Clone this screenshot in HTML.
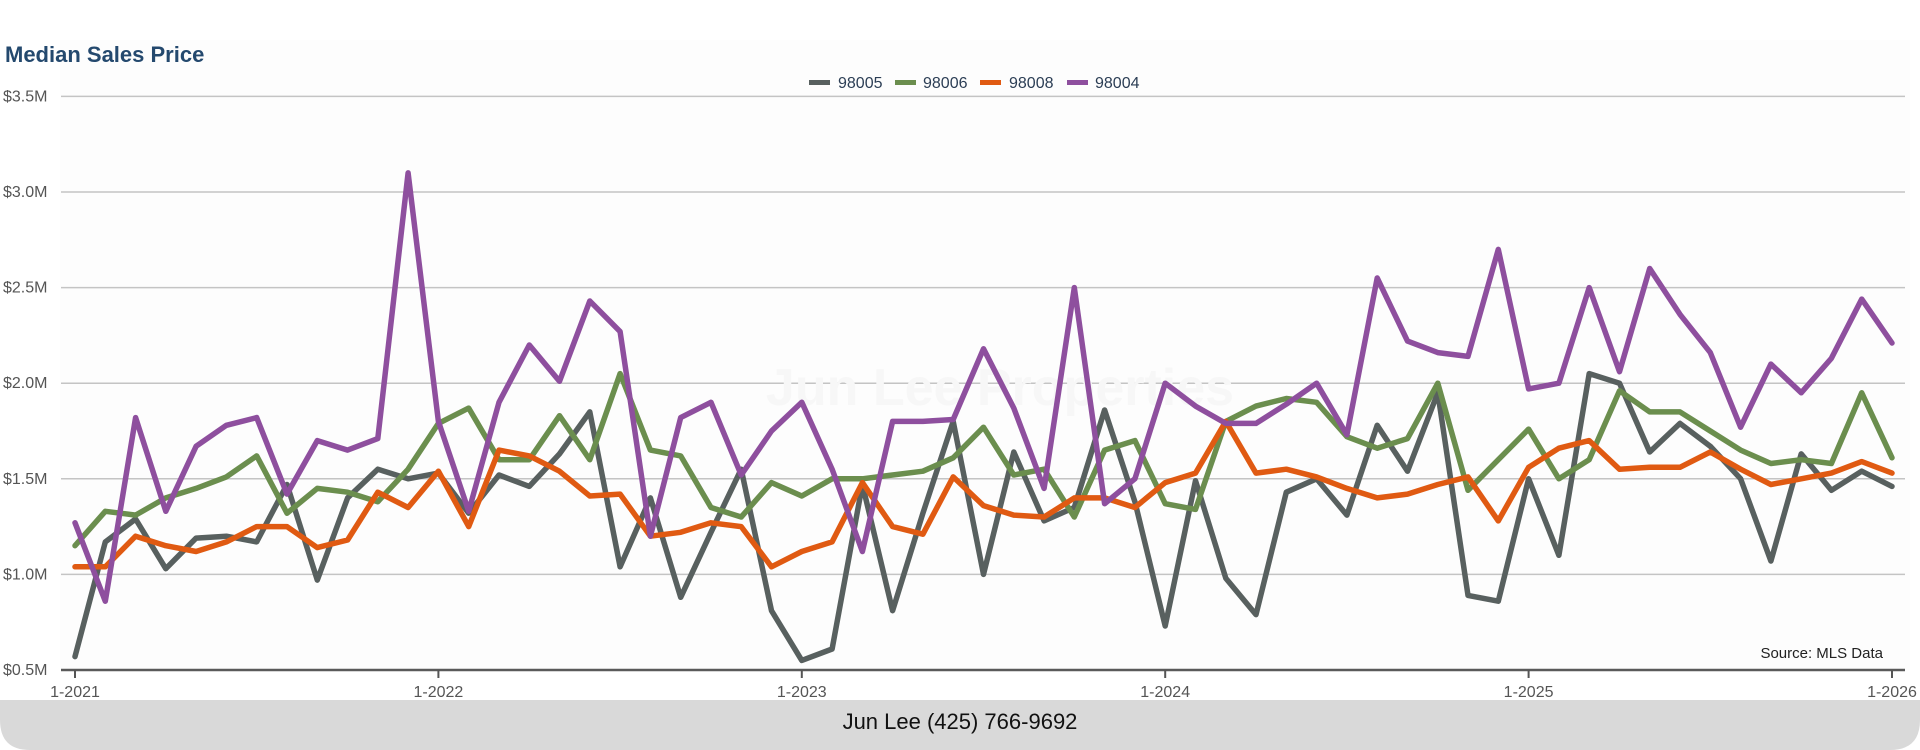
<!DOCTYPE html>
<html><head><meta charset="utf-8"><style>
html,body{margin:0;padding:0;background:#fff;}
body{width:1920px;height:750px;overflow:hidden;position:relative;font-family:"Liberation Sans",Arial,sans-serif;}
</style></head><body>
<svg id="c" width="1920" height="750" viewBox="0 0 1920 750" xmlns="http://www.w3.org/2000/svg" style="position:absolute;left:0;top:0">
<rect x="0" y="0" width="1920" height="750" fill="#ffffff"/>
<rect x="60" y="40" width="1850" height="630" fill="#fdfdfd"/>
<text x="5" y="62" font-family="Liberation Sans, Arial, sans-serif" font-size="22" font-weight="bold" fill="#24496e">Median Sales Price</text>
<g font-family="Liberation Sans, Arial, sans-serif" font-size="16" fill="#2c3e55">
<rect x="809" y="80" width="21" height="5" fill="#58605f"/><text x="838" y="88">98005</text>
<rect x="895" y="80" width="21" height="5" fill="#6b8e4e"/><text x="923" y="88">98006</text>
<rect x="980" y="80" width="21" height="5" fill="#e05a12"/><text x="1009" y="88">98008</text>
<rect x="1067" y="80" width="21" height="5" fill="#8e4f9e"/><text x="1095" y="88">98004</text>
</g>
<g id="grid" stroke="#c4c4c4" stroke-width="1.5"></g>
<g id="ylab" font-family="Liberation Sans, Arial, sans-serif" font-size="16" fill="#555"></g>
<text x="1000" y="405" text-anchor="middle" font-family="Liberation Sans, Arial, sans-serif" font-size="52" font-weight="bold" fill="#f7f7f7">Jun Lee Properties</text>
<g id="series" fill="none" stroke-width="5.5" stroke-linejoin="round" stroke-linecap="round"></g>
<line x1="61" y1="670" x2="1905" y2="670" stroke="#5a5a5a" stroke-width="2.5"/>
<g id="xt" font-family="Liberation Sans, Arial, sans-serif" font-size="16" fill="#555"></g>
<text x="1883" y="658" text-anchor="end" font-family="Liberation Sans, Arial, sans-serif" font-size="15" fill="#222">Source: MLS Data</text>
<path d="M0 700 H1920 V720 Q1920 750 1890 750 H30 Q0 750 0 720 Z" fill="#d9d9d9"/>
<text x="960" y="729" text-anchor="middle" font-family="Liberation Sans, Arial, sans-serif" font-size="22" fill="#111">Jun Lee (425) 766-9692</text>
</svg>
<script>
var ns="http://www.w3.org/2000/svg";
function Y(v){return 670-(v-0.5)*191.2;}
function X(i){return 75+i*(1892-75)/60;}
var g=document.getElementById("grid"),yl=document.getElementById("ylab");
var labs=["$0.5M","$1.0M","$1.5M","$2.0M","$2.5M","$3.0M","$3.5M"];
for(var k=0;k<7;k++){var v=0.5+k*0.5,y=Y(v);
 if(k>0){var l=document.createElementNS(ns,"line");l.setAttribute("x1",61);l.setAttribute("x2",1905);l.setAttribute("y1",y);l.setAttribute("y2",y);g.appendChild(l);}
 var t=document.createElementNS(ns,"text");t.setAttribute("x",3);t.setAttribute("y",y+5);t.textContent=labs[k];yl.appendChild(t);}
var xt=document.getElementById("xt");
for(var yr=0;yr<6;yr++){var x=X(yr*12);
 var l=document.createElementNS(ns,"line");l.setAttribute("x1",x);l.setAttribute("x2",x);l.setAttribute("y1",670);l.setAttribute("y2",678);l.setAttribute("stroke","#555");l.setAttribute("stroke-width","2");xt.appendChild(l);
 var t=document.createElementNS(ns,"text");t.setAttribute("x",x);t.setAttribute("y",697);t.setAttribute("text-anchor","middle");t.textContent="1-"+(2021+yr);xt.appendChild(t);}
var d={
"#58605f":[0.57,1.17,1.29,1.03,1.19,1.20,1.17,1.47,0.97,1.40,1.55,1.50,1.53,1.32,1.52,1.46,1.63,1.85,1.04,1.40,0.88,1.22,1.55,0.81,0.55,0.61,1.47,0.81,1.32,1.80,1.00,1.64,1.28,1.35,1.86,1.38,0.73,1.49,0.98,0.79,1.43,1.50,1.31,1.78,1.54,1.95,0.89,0.86,1.50,1.10,2.05,2.00,1.64,1.79,1.67,1.50,1.07,1.63,1.44,1.54,1.46],
"#6b8e4e":[1.15,1.33,1.31,1.40,1.45,1.51,1.62,1.32,1.45,1.43,1.38,1.55,1.79,1.87,1.60,1.60,1.83,1.60,2.05,1.65,1.62,1.35,1.30,1.48,1.41,1.50,1.50,1.52,1.54,1.61,1.77,1.52,1.55,1.30,1.65,1.70,1.37,1.34,1.80,1.88,1.92,1.90,1.72,1.66,1.71,2.00,1.44,1.60,1.76,1.50,1.60,1.96,1.85,1.85,1.75,1.65,1.58,1.60,1.58,1.95,1.61],
"#e05a12":[1.04,1.04,1.20,1.15,1.12,1.17,1.25,1.25,1.14,1.18,1.43,1.35,1.54,1.25,1.65,1.62,1.54,1.41,1.42,1.20,1.22,1.27,1.25,1.04,1.12,1.17,1.48,1.25,1.21,1.51,1.36,1.31,1.30,1.40,1.40,1.35,1.48,1.53,1.80,1.53,1.55,1.51,1.45,1.40,1.42,1.47,1.51,1.28,1.56,1.66,1.70,1.55,1.56,1.56,1.64,1.55,1.47,1.50,1.53,1.59,1.53],
"#8e4f9e":[1.27,0.86,1.82,1.33,1.67,1.78,1.82,1.42,1.70,1.65,1.71,3.10,1.80,1.33,1.90,2.20,2.01,2.43,2.27,1.20,1.82,1.90,1.52,1.75,1.90,1.55,1.12,1.80,1.80,1.81,2.18,1.87,1.45,2.50,1.37,1.50,2.00,1.88,1.79,1.79,1.89,2.00,1.73,2.55,2.22,2.16,2.14,2.70,1.97,2.00,2.50,2.06,2.60,2.36,2.16,1.77,2.10,1.95,2.13,2.44,2.21]};
var s=document.getElementById("series");
for(var c in d){var p=document.createElementNS(ns,"polyline");
 p.setAttribute("points",d[c].map(function(v,i){return X(i).toFixed(1)+","+Y(v).toFixed(1);}).join(" "));
 p.setAttribute("stroke",c);s.appendChild(p);}
</script>
</body></html>
